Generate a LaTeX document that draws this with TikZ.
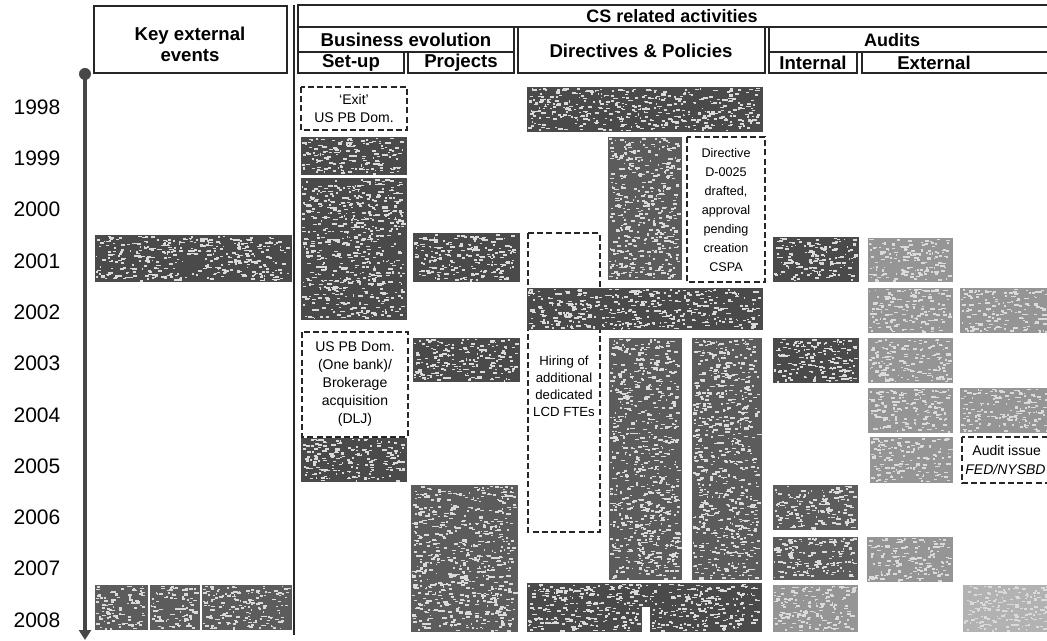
\documentclass[tikz,border=0pt]{standalone}
\usepackage{fontspec}
\setmainfont{Liberation Sans}
\usetikzlibrary{arrows.meta}
\definecolor{tlgrey}{HTML}{474747}
\definecolor{shdark}{HTML}{4A4A4A}
\definecolor{shmid}{HTML}{5C5C5C}
\definecolor{shlight}{HTML}{959595}
\definecolor{shpale}{HTML}{B2B2B2}
\definecolor{fleck}{HTML}{DADADA}
% a blacked-out field: solid fill sprinkled with fine light flecks
\newcommand\redbox[5]{%
  \fill[#1] (#2,#3) rectangle (#4,#5);
  \pgfmathtruncatemacro\nsp{((#4-#2)/5)*((#5-#3)/5)}
  \foreach \k in {1,...,\nsp}{%
    \pgfmathsetmacro\sx{#2+0.5+rnd*(#4-#2-5)}%
    \pgfmathsetmacro\sy{#3+0.5+rnd*(#5-#3-2.5)}%
    \pgfmathsetmacro\sw{1.2+rnd*3.5}%
    \pgfmathsetmacro\sh{0.9+rnd*1.4}%
    \fill[fleck] (\sx,\sy) rectangle ++(\sw,\sh);
  }}
\begin{document}
\begin{tikzpicture}[x=0.5pt,y=-0.5pt,
  hdr/.style={draw=black!85,line width=0.7pt},
  hdrtext/.style={font=\fontsize{9.3}{11.5}\selectfont\bfseries,inner sep=0pt,align=center},
  yr/.style={font=\fontsize{10.5}{12}\selectfont,inner sep=0pt},
  note/.style={font=\fontsize{7}{9}\selectfont,inner sep=0pt,align=center},
  dashbox/.style={draw=black!85,line width=0.7pt,dash pattern=on 3pt off 1.6pt},
  dark/.style={fill=shdark},
  mid/.style={fill=shmid},
  light/.style={fill=shlight},
  pale/.style={fill=shpale}]
\pgfmathsetseed{2718}
\useasboundingbox (0,0) rectangle (1047,641);
\fill[white] (0,0) rectangle (1047,641);

% ---------- header ----------
\draw[hdr] (94,6) rectangle (287,73);
\node[hdrtext] (hkey) at (190,44) {Key external\\[-1pt]events};
\draw[hdr] (298,5) rectangle (1060,27);
\node[hdrtext,font=\fontsize{9}{11}\selectfont\bfseries] (hcs) at (672,16) {CS related activities};
\draw[hdr] (298,27) rectangle (514,52);
\node[hdrtext] (hbus) at (406,40) {Business evolution};
\draw[hdr] (298,52) rectangle (404,73);
\node[hdrtext] (hset) at (351,63) {Set-up};
\draw[hdr] (408,52) rectangle (514,73);
\node[hdrtext] (hproj) at (461,63) {Projects};
\draw[hdr] (518,27) rectangle (765,73);
\node[hdrtext] (hdir) at (641,51) {Directives \& Policies};
\draw[hdr] (769,27) rectangle (1060,52);
\node[hdrtext,font=\fontsize{9}{11}\selectfont\bfseries] (haud) at (892,40) {Audits};
\draw[hdr] (769,52) rectangle (857,73);
\node[hdrtext] (hint) at (813,63) {Internal};
\draw[hdr] (862,52) rectangle (1060,73);
\node[hdrtext] (hext) at (934,63) {External};

% column separator
\draw[black!85,line width=0.8pt] (294,5) -- (294,635);

% ---------- time axis ----------
\node[circle,fill=tlgrey,inner sep=0pt,minimum size=6pt] (dot) at (85,74) {};
\coordinate (tlend) at (85,640);
\draw[tlgrey,line width=1.6pt,-{Triangle[length=5pt,width=6pt]}] (dot.center) -- (tlend);
\foreach \yy [count=\i from 0] in {1998,...,2008}
  \node[yr] (y\yy) at (37,{107+51.3*\i}) {\yy};

% ---------- key external events ----------
\redbox{dark}{95}{235}{292}{282}
\redbox{mid}{95}{585}{148}{630}
\redbox{mid}{150}{585}{200}{630}
\redbox{mid}{202}{585}{292}{630}

% ---------- business evolution: set-up ----------
\draw[dashbox] (301,87) rectangle (407,130);
\node[note] (exit) at (354,108) {`Exit'\\US PB Dom.};
\redbox{dark}{301}{137}{407}{175}
\redbox{dark}{301}{178}{407}{320}
\draw[dashbox] (302,332) rectangle (408,437);
\node[note] (uspb) at (355,384) {US PB Dom.\\(One bank)/\\Brokerage\\acquisition\\(DLJ)};
\redbox{dark}{301}{438}{407}{482}

% ---------- business evolution: projects ----------
\redbox{dark}{413}{233}{520}{282}
\redbox{dark}{413}{338}{520}{382}
\redbox{mid}{411}{485}{518}{632}

% ---------- directives & policies ----------
\redbox{dark}{527}{87}{763}{132}
\redbox{mid}{608}{137}{682}{280}
\draw[dashbox] (687,137) rectangle (765,282);
\node[note,font=\fontsize{6.3}{9.5}\selectfont] (d25) at (726,210)
  {Directive\\D-0025\\drafted,\\approval\\pending\\creation\\CSPA};
\draw[dashbox] (528,233) rectangle (600,532);
\node[note,font=\fontsize{6.6}{8.5}\selectfont] (hire) at (564,386)
  {Hiring of\\additional\\dedicated\\LCD FTEs};
\redbox{dark}{527}{288}{763}{330}
\redbox{mid}{609}{338}{682}{580}
\redbox{mid}{692}{338}{762}{580}
\redbox{dark}{527}{583}{762}{607}
\redbox{dark}{527}{606}{642}{632}
\redbox{dark}{650}{606}{762}{632}

% ---------- audits: internal ----------
\redbox{dark}{773}{237}{859}{282}
\redbox{dark}{773}{338}{859}{383}
\redbox{mid}{773}{485}{858}{530}
\redbox{mid}{773}{537}{858}{580}
\redbox{light}{773}{585}{858}{632}

% ---------- audits: external ----------
\redbox{light}{868}{238}{953}{282}
\redbox{light}{868}{288}{953}{333}
\redbox{light}{868}{338}{953}{383}
\redbox{light}{868}{388}{953}{433}
\redbox{light}{870}{437}{953}{483}
\redbox{light}{867}{537}{953}{582}
\redbox{light}{960}{288}{1052}{333}
\redbox{light}{960}{388}{1052}{433}
\redbox{pale}{963}{585}{1052}{632}
\draw[dashbox] (962,437) rectangle (1060,483);
\node[note,anchor=west] (iss) at (972,450) {Audit issue};
\node[note,anchor=west,font=\fontsize{7}{9}\selectfont\itshape] (fed) at (965,469) {FED/NYSBD};
\end{tikzpicture}
\end{document}
